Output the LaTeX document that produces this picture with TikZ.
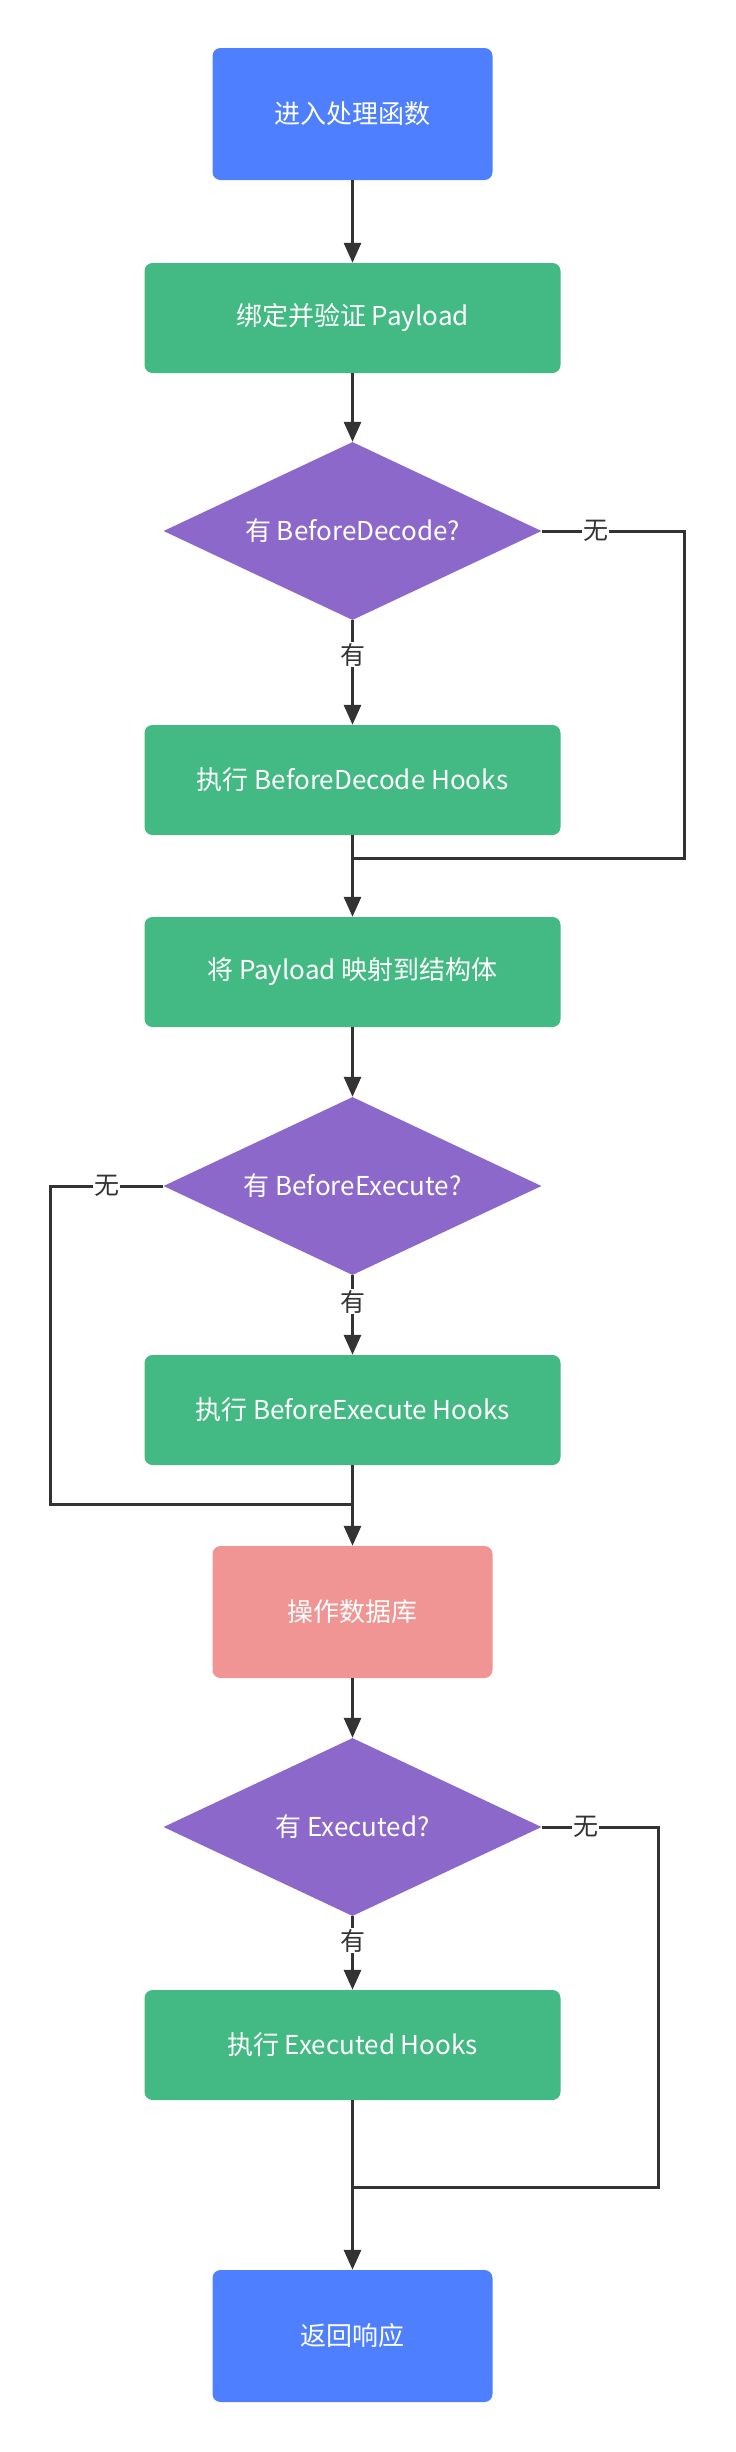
\documentclass[tikz,border=0pt]{standalone}
\usepackage{fontspec}
\setmainfont{Noto Sans CJK SC}
\usetikzlibrary{shapes.geometric,arrows.meta}
\definecolor{cblue}{HTML}{4D7FFF}
\definecolor{cgreen}{HTML}{43B984}
\definecolor{cpurple}{HTML}{8C68CB}
\definecolor{cpink}{HTML}{F09593}
\definecolor{cline}{HTML}{333333}
\tikzset{
  base/.style={draw=none, text=white, font=\fontsize{26}{31}\selectfont, inner sep=0pt},
  endbox/.style={base, fill=cblue, rounded corners=8pt, minimum width=280pt, minimum height=132pt},
  procbox/.style={base, fill=cgreen, rounded corners=8pt, minimum width=416pt, minimum height=110pt},
  dbbox/.style={base, fill=cpink, rounded corners=8pt, minimum width=280pt, minimum height=132pt},
  decbox/.style={base, fill=cpurple, diamond, aspect=2.12, minimum width=378pt, minimum height=178pt},
  conn/.style={draw=cline, line width=3pt},
  arr/.style={conn, -{Triangle[length=20pt,width=17pt]}},
  lbl/.style={fill=white, text=cline, font=\fontsize{25}{30}\selectfont, inner sep=1pt}
}
\begin{document}
\begin{tikzpicture}[x=1pt,y=-1pt]
\useasboundingbox (0,0) rectangle (736,2452);
\node[endbox] (start) at (352.5,114) {进入处理函数};
\node[procbox] (bind) at (352.5,318) {绑定并验证 Payload};
\node[decbox] (d1) at (352.5,531) {有 BeforeDecode?};
\node[procbox] (h1) at (352.5,780) {执行 BeforeDecode Hooks};
\node[procbox] (map) at (352.5,972) {将 Payload 映射到结构体};
\node[decbox] (d2) at (352.5,1186) {有 BeforeExecute?};
\node[procbox] (h2) at (352.5,1410) {执行 BeforeExecute Hooks};
\node[dbbox] (db) at (352.5,1612) {操作数据库};
\node[decbox] (d3) at (352.5,1827) {有 Executed?};
\node[procbox] (h3) at (352.5,2045) {执行 Executed Hooks};
\node[endbox] (resp) at (352.5,2336) {返回响应};

\coordinate (r1) at (684,531);
\coordinate (j1) at (352.5,858);
\coordinate (l2) at (50,1186);
\coordinate (j2) at (352.5,1504);
\coordinate (r3) at (658,1827);
\coordinate (j3) at (352.5,2187);

\draw[arr] (start) -- (bind);
\draw[arr] (bind) -- (d1);
\draw[arr] (d1) -- node[lbl, pos=0.33]{有} (h1);
\draw[conn] (d1.east) -- node[lbl, pos=0.38]{无} (r1) |- (j1);
\draw[arr] (h1) -- (map);
\draw[arr] (map) -- (d2);
\draw[arr] (d2) -- node[lbl, pos=0.33]{有} (h2);
\draw[conn] (d2.west) -- node[lbl, pos=0.5]{无} (l2) |- (j2);
\draw[arr] (h2) -- (db);
\draw[arr] (db) -- (d3);
\draw[arr] (d3) -- node[lbl, pos=0.33]{有} (h3);
\draw[conn] (d3.east) -- node[lbl, pos=0.38]{无} (r3) |- (j3);
\draw[arr] (h3) -- (resp);
\end{tikzpicture}
\end{document}
